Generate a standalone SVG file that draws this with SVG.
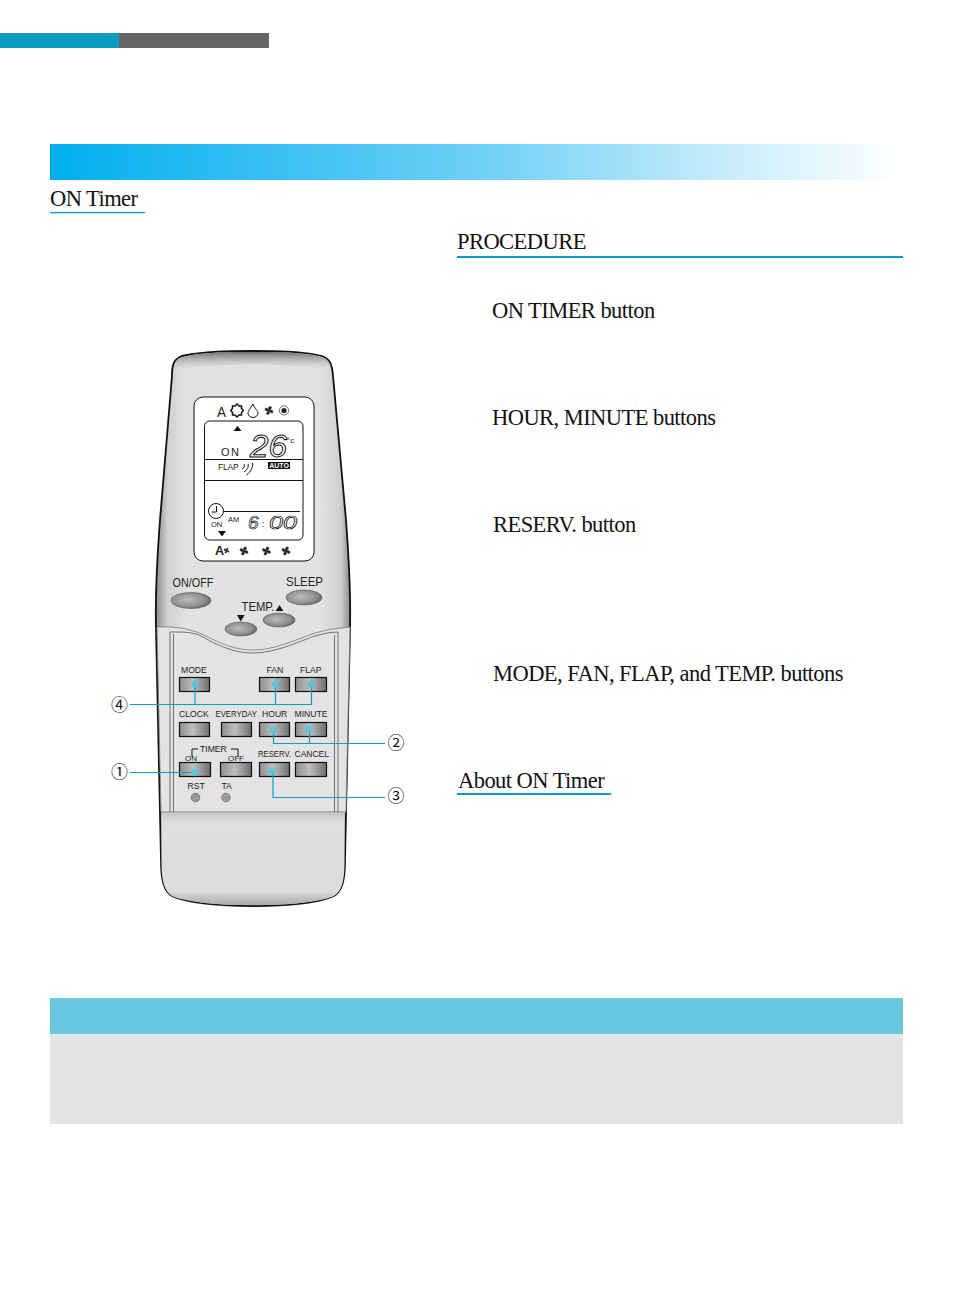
<svg xmlns="http://www.w3.org/2000/svg" width="954" height="1305" viewBox="0 0 954 1305">
<style>
.h{font-family:"Liberation Serif","Times New Roman",serif;font-size:22.500px;letter-spacing:-.55px;fill:#111}
.l{font-family:"Liberation Sans",Arial,sans-serif;fill:#222}
.s8{font-size:8.600px}.s12{font-size:12px}
.btn{fill:url(#btn);stroke:#111;stroke-width:1.200}
.ov{fill:url(#oval);stroke:#555;stroke-width:.6}
.led{fill:#9a9a9a;stroke:#666;stroke-width:.7}
.dot{fill:#5cc3df}
.c{fill:none;stroke:#00a0c6;stroke-width:1.200}
.n{font-family:"Noto Sans CJK JP","DejaVu Sans",sans-serif;font-size:17px;fill:#111;text-anchor:middle}
.k{fill:none;stroke:#111;stroke-width:1}
.seg{font-family:"Liberation Sans",Arial,sans-serif;font-style:italic;fill:#fff;stroke:#111;stroke-width:1}
</style>
<defs>
<linearGradient id="bar"><stop offset="0" stop-color="#00aeef"/><stop offset=".5" stop-color="#6dcff6"/><stop offset=".8" stop-color="#c9edfb"/><stop offset="1" stop-color="#fff"/></linearGradient>
<linearGradient id="body"><stop offset="0" stop-color="#8c8c8c"/><stop offset=".06" stop-color="#d0d0d0"/><stop offset=".16" stop-color="#e2e2e2"/><stop offset=".84" stop-color="#e2e2e2"/><stop offset=".95" stop-color="#cfcfcf"/><stop offset="1" stop-color="#8c8c8c"/></linearGradient>
<linearGradient id="top" x1="0" y1="0" x2="0" y2="1"><stop offset="0" stop-color="#707070"/><stop offset="1" stop-color="#e2e2e2" stop-opacity="0"/></linearGradient>
<linearGradient id="low" x1="0" y1="0" x2="0" y2="1"><stop offset="0" stop-color="#c4c4c4"/><stop offset=".12" stop-color="#dedede"/><stop offset=".85" stop-color="#dcdcdc"/><stop offset="1" stop-color="#a8a8a8"/></linearGradient>
<linearGradient id="btn"><stop offset="0" stop-color="#8e8e8e"/><stop offset=".45" stop-color="#bdbdbd"/><stop offset="1" stop-color="#6e6e6e"/></linearGradient>
<radialGradient id="oval" cx=".42" cy=".45" r=".6"><stop offset="0" stop-color="#bcbcbc"/><stop offset=".7" stop-color="#8f8f8f"/><stop offset="1" stop-color="#666"/></radialGradient>
<g id="fan"><path d="M0 0C-1.500-3 .5-4.500 2-3.800S1.500-1 0 0C3-1.500 4.500.5 3.800 2S1 1.500 0 0C1.500 3-.5 4.500-2 3.800S-1.500 1 0 0C-3 1.500-4.500-.5-3.800-2S-1-1.500 0 0Z" fill="#222" stroke="#222" stroke-width=".5"/></g>
</defs>

<g id="page-tabs"><rect x="0" y="33" width="119" height="15" fill="#0a9cc0"/><rect x="119" y="33" width="150" height="15" fill="#666"/></g>
<rect id="title-bar" x="50" y="144" width="853" height="36" fill="url(#bar)"/>
<g id="on-timer-head"><text class="h" x="50" y="206">ON Timer</text><rect x="50" y="212" width="95" height="1.300" fill="#00a0c6"/></g>
<g id="procedure-head"><text class="h" x="457" y="249">PROCEDURE</text><rect x="457" y="256" width="446" height="2" fill="#00a0c6"/></g>
<text id="step1" class="h" x="492" y="318">ON TIMER button</text>
<text id="step2" class="h" x="492" y="425">HOUR, MINUTE buttons</text>
<text id="step3" class="h" x="493" y="532">RESERV. button</text>
<text id="step4" class="h" x="493" y="681">MODE, FAN, FLAP, and TEMP. buttons</text>
<g id="about-head"><text class="h" x="458" y="788">About ON Timer</text><rect x="457" y="793" width="154" height="2" fill="#00a0c6"/></g>
<g id="note-box"><rect x="50" y="998" width="853" height="36" fill="#69c6df"/><rect x="50" y="1034" width="853" height="90" fill="#e4e4e4"/></g>

<g id="remote">
<path d="M172 376C172 364 174 359 182 356C204 351 230 351 253 351C276 351 302 351 322 356C330 359 332 364 333 376L346 520C349 560 351 590 350 628L345 860C345 878 343 892 332 897C300 909 206 909 174 897C163 892 161 878 161 860L156 628C155 590 157 560 160 520Z" fill="url(#body)" stroke="#111" stroke-width="1.800"/>
<path d="M173 372C174 364 176 359 183 357C204 352 230 352 253 352C276 352 302 352 321 357C328 359 331 364 332 372C300 362 206 362 173 372Z" fill="url(#top)"/>
<path d="M157 627C180 626 195 630 210 638C228 647 240 650 253 650C275 650 295 640 315 633C325 630 338 628 350 627L346 812H161Z" fill="#e3e3e3" stroke="#777" stroke-width=".8"/>
<path d="M161.500 812H344.500L344.500 860C344.500 878 343 892 332 897C300 908 206 908 174 897C163 892 161.500 878 161.500 860Z" fill="url(#low)"/>
<path d="M161 812H345" fill="none" stroke="#999" stroke-width=".8"/>
<path d="M170 812V632H178C195 632 200 635 210 641C228 650 240 653 253 653C275 653 295 643 315 636C322 634 330 632 338 632V812M173.500 812V634M334.500 812V635" fill="none" stroke="#555" stroke-width=".8"/>
</g>

<g id="display">
<rect x="194" y="397" width="120" height="164" rx="9" fill="#fff" stroke="#111" stroke-width="1"/>
<rect x="204.500" y="421" width="98.500" height="119" rx="5" fill="#fff" stroke="#111" stroke-width="1"/>
<path d="M204.500 459.500H303M204.500 480.500H303" class="k"/>
<text class="l" x="217" y="416.500" font-size="15" textLength="9" lengthAdjust="spacingAndGlyphs">A</text>
<path d="M237 404l2 2h2.500v2.500l1.800 2-1.800 2v2.500H239l-2 2-2-2h-2.500v-2.500l-1.800-2 1.800-2V406H235Z" fill="#fff" stroke="#111" stroke-width="1.500"/>
<path d="M253 404C250 409 248 411 248 413a5 4.500 0 0 0 10 0C258 411 255 409 253 404Z" fill="#fff" stroke="#111" stroke-width="1"/>
<use href="#fan" x="269" y="410.500"/>
<circle cx="284" cy="410.500" r="4.600" fill="#fff" stroke="#444" stroke-width=".8"/><circle cx="284" cy="410.500" r="2.600" fill="#222"/>
<path d="M237.500 426l4 5h-8Z" fill="#111"/>
<text class="l" x="221" y="456" font-size="11" letter-spacing="1.500">ON</text>
<text class="seg" x="250" y="457" font-size="32" textLength="37" lengthAdjust="spacingAndGlyphs">26</text>
<text class="l" x="287" y="443" font-size="8">°c</text>
<text class="l" x="218" y="470" font-size="8.500" letter-spacing="-.2">FLAP</text>
<path d="M244 464c1 2 0 4-2 5M248 464c1 3-1 6-4 8M252.500 463c1 4-2 9-6 12" fill="none" stroke="#111" stroke-width="1"/>
<rect x="268" y="462" width="22" height="7" fill="#111"/>
<text class="l" x="279" y="468.300" font-size="7" font-weight="bold" text-anchor="middle" style="fill:#fff">AUTO</text>
<circle cx="216" cy="511" r="7.500" fill="#fff" stroke="#111" stroke-width="1"/><path d="M216.500 506v6h-5" class="k" stroke-width=".8"/>
<path d="M224 511.500H300" class="k"/>
<text class="l" x="211" y="527" font-size="7.500">ON</text>
<text class="l" x="228" y="522" font-size="7.500">AM</text>
<text class="seg" x="248" y="529" font-size="19" style="stroke-width:.7">6</text>
<text class="l" x="262" y="527" font-size="9">:</text>
<text class="seg" x="269" y="529" font-size="19" textLength="28" lengthAdjust="spacingAndGlyphs" style="stroke-width:.7">00</text>
<path d="M218 531h8l-4 5.500Z" fill="#111"/>
<text class="l" x="215" y="555" font-size="12.500" font-weight="bold">A</text>
<use href="#fan" transform="translate(226.500 550.500) scale(.65)"/>
<use href="#fan" x="244" y="551"/><use href="#fan" x="266.500" y="551"/><use href="#fan" x="286" y="551"/>
</g>

<g id="btn-onoff"><text class="l s12" x="172.500" y="587" textLength="41" lengthAdjust="spacingAndGlyphs">ON/OFF</text><ellipse class="ov" cx="191" cy="600.500" rx="20" ry="8"/></g>
<g id="btn-sleep"><text class="l s12" x="286" y="586" textLength="37" lengthAdjust="spacingAndGlyphs">SLEEP</text><ellipse class="ov" cx="304" cy="597.500" rx="18" ry="7.500"/></g>
<g id="btn-temp-up"><text class="l s12" x="241.500" y="611" textLength="33" lengthAdjust="spacingAndGlyphs">TEMP.</text><path d="M279.500 605l3.800 6h-7.600Z" fill="#111"/><ellipse class="ov" cx="279" cy="620" rx="16" ry="7"/></g>
<g id="btn-temp-down"><path d="M237 615h7.600l-3.800 6.500Z" fill="#111"/><ellipse class="ov" cx="241" cy="629" rx="16" ry="7"/></g>

<g id="btn-mode"><text class="l s8" x="181" y="673">MODE</text><rect class="btn" x="179.500" y="677.500" width="30" height="14"/></g>
<g id="btn-fan"><text class="l s8" x="266.500" y="673">FAN</text><rect class="btn" x="259.500" y="677.500" width="30" height="14"/></g>
<g id="btn-flap"><text class="l s8" x="300" y="673">FLAP</text><rect class="btn" x="295.500" y="677.500" width="31" height="14"/></g>
<g id="btn-clock"><text class="l s8" x="179" y="717">CLOCK</text><rect class="btn" x="179.500" y="722.500" width="30" height="14"/></g>
<g id="btn-everyday"><text class="l s8" x="215.500" y="717" textLength="41.500" lengthAdjust="spacingAndGlyphs">EVERYDAY</text><rect class="btn" x="221.500" y="722.500" width="30" height="14"/></g>
<g id="btn-hour"><text class="l s8" x="262" y="717">HOUR</text><rect class="btn" x="259.500" y="722.500" width="30" height="14"/></g>
<g id="btn-minute"><text class="l s8" x="294.500" y="717">MINUTE</text><rect class="btn" x="295.500" y="722.500" width="31" height="14"/></g>
<g id="timer-label"><text class="l s8" x="200" y="752">TIMER</text><path d="M192 757v-8h6M238 757v-8h-7" class="k" stroke-width=".8"/></g>
<g id="btn-on"><text class="l" x="185" y="761" font-size="8">ON</text><rect class="btn" x="179.500" y="762.500" width="31" height="14"/></g>
<g id="btn-off"><text class="l" x="228" y="761" font-size="8">OFF</text><rect class="btn" x="220.500" y="762.500" width="31" height="14"/></g>
<g id="btn-reserv"><text class="l s8" x="258" y="757" textLength="33" lengthAdjust="spacingAndGlyphs">RESERV.</text><rect class="btn" x="259.500" y="762.500" width="30" height="14"/></g>
<g id="btn-cancel"><text class="l s8" x="294.500" y="757" textLength="34.500" lengthAdjust="spacingAndGlyphs">CANCEL</text><rect class="btn" x="295.500" y="762.500" width="31" height="14"/></g>
<g id="led-rst"><text class="l s8" x="187.500" y="789">RST</text><circle class="led" cx="195.500" cy="797.500" r="4.300"/></g>
<g id="led-ta"><text class="l s8" x="221.500" y="789">TA</text><circle class="led" cx="226" cy="797.500" r="4.300"/></g>

<g id="connectors">
<path class="c" d="M130 704.500H312M195 684V704.500M275.500 684V704.500M311.500 684V704.500"/>
<path class="c" d="M273.500 730V743.500H385M309.500 729V743.500"/>
<path class="c" d="M130 772.500H195"/>
<path class="c" d="M273 771V797.500H385"/>
<circle class="dot" cx="195" cy="684" r="3.500"/><circle class="dot" cx="275.500" cy="684" r="3.500"/><circle class="dot" cx="311" cy="684" r="3.500"/>
<circle class="dot" cx="273" cy="730" r="3.500"/><circle class="dot" cx="308.500" cy="729" r="3.500"/>
<circle class="dot" cx="195" cy="772.500" r="3.500"/><circle class="dot" cx="272" cy="771" r="3.500"/>
</g>
<g id="callout-4"><text class="n" x="119.500" y="710.500">④</text></g>
<g id="callout-2"><text class="n" x="396" y="749">②</text></g>
<g id="callout-1"><text class="n" x="119.500" y="778">①</text></g>
<g id="callout-3"><text class="n" x="396" y="802">③</text></g>
</svg>
